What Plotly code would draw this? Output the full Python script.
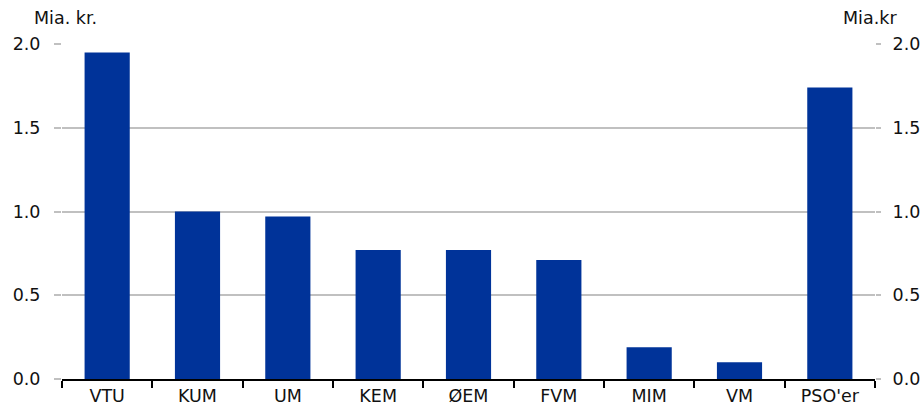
import plotly.graph_objects as go

categories = ["VTU", "KUM", "UM", "KEM", "ØEM", "FVM", "MIM", "VM", "PSO'er"]
values = [1.95, 1.0, 0.97, 0.77, 0.77, 0.71, 0.19, 0.10, 1.74]
yticks = [0.0, 0.5, 1.0, 1.5, 2.0]
ytick_labels = ["0.0", "0.5", "1.0", "1.5", "2.0"]
left_unit = "Mia. kr."
right_unit = "Mia.kr"

FONT = "DejaVu Sans"
FS = 17.5
BAR = "#003399"

fig = go.Figure()
fig.add_trace(go.Bar(x=categories, y=values, marker=dict(color=BAR, line=dict(width=0)),
                     showlegend=False, hoverinfo="x+y"))
fig.add_trace(go.Scatter(x=categories, y=values, yaxis="y2", mode="markers",
                         marker=dict(opacity=0), showlegend=False, hoverinfo="skip"))

fig.update_layout(
    width=922, height=406,
    margin=dict(l=62, r=47, t=44, b=27),
    paper_bgcolor="white", plot_bgcolor="white",
    bargap=0.5,
    font=dict(family=FONT, size=FS, color="#111111"),
    xaxis=dict(type="category", tickson="boundaries", ticks="outside", ticklen=7,
               tickcolor="#000000", tickwidth=2, showline=True, linecolor="#000000",
               linewidth=2, showgrid=False, ticklabelstandoff=0, automargin=False,
               tickfont=dict(size=FS, family=FONT)),
    yaxis=dict(range=[0, 2.0], tickvals=yticks, ticktext=ytick_labels,
               showgrid=True, gridcolor="#c0c0c0", gridwidth=1.5, zeroline=False,
               ticks="outside", ticklen=7, tickcolor="#c0c0c0", tickwidth=1.5,
               ticklabelstandoff=10, automargin=False, tickfont=dict(size=FS, family=FONT)),
    yaxis2=dict(range=[0, 2.0], tickvals=yticks, ticktext=ytick_labels, overlaying="y",
                side="right", showgrid=False, zeroline=False, ticks="outside", ticklen=5,
                tickcolor="#c0c0c0", tickwidth=1.5, ticklabelstandoff=8, automargin=False,
                tickfont=dict(size=FS, family=FONT)),
    annotations=[
        dict(text=left_unit, xref="paper", yref="paper", x=(32 - 62) / 813, y=1, yshift=26,
             xanchor="left", yanchor="middle", showarrow=False, font=dict(size=FS, family=FONT)),
        dict(text=right_unit, xref="paper", yref="paper", x=(899 - 62) / 813, y=1, yshift=26,
             xanchor="right", yanchor="middle", showarrow=False, font=dict(size=FS, family=FONT)),
    ],
)

fig.write_html("out.html")
